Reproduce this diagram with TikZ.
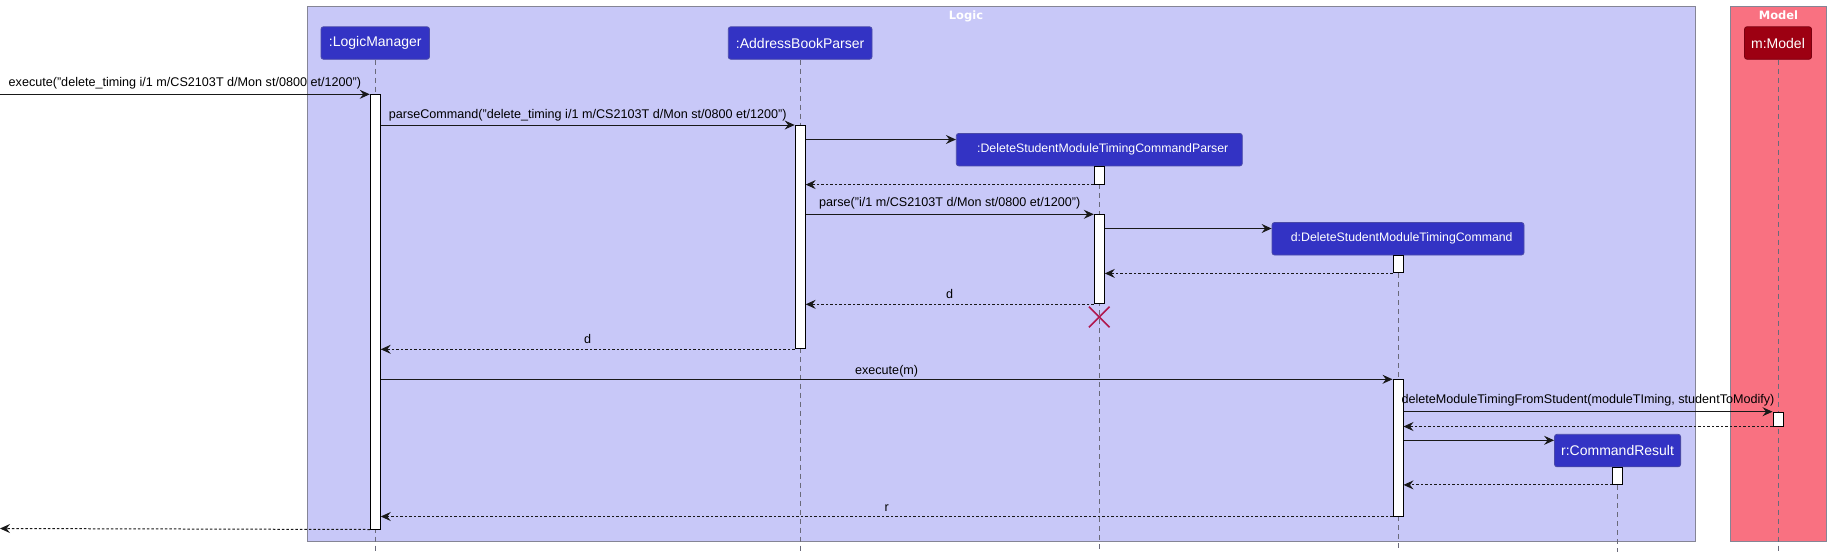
\documentclass[tikz,border=0pt]{standalone}
\usepackage{fontspec}
\setmainfont{Liberation Sans}
\newfontfamily\titlefont{DejaVu Sans}
\usetikzlibrary{arrows.meta,shapes.misc}
\definecolor{grpL}{HTML}{C8C8F8}
\definecolor{grpM}{HTML}{F97181}
\definecolor{grpB}{HTML}{858595}
\definecolor{partC}{HTML}{3333C4}
\definecolor{partB}{HTML}{4A4AA8}
\definecolor{partM}{HTML}{9D0012}
\definecolor{partMB}{HTML}{7A0010}
\definecolor{lifeC}{HTML}{6A6A7A}
\definecolor{destroyC}{HTML}{B0174D}
\begin{document}
\begin{tikzpicture}[x=1pt,y=-1pt,
  part/.style={draw=partB, fill=partC, rounded corners=2.5pt, text=white,
    font=\fontsize{14}{16}\selectfont, minimum height=32.5pt, inner sep=0pt, line width=0.8pt},
  partsmall/.style={font=\fontsize{12.3}{14}\selectfont, align=right},
  act/.style={draw=black, fill=white, minimum width=10pt, inner sep=0pt, line width=1pt},
  life/.style={draw=lifeC, dash pattern=on 5pt off 4pt, line width=0.9pt},
  msg/.style={draw=black!90, line width=1pt, -{Stealth[length=10pt,width=9pt,inset=3.5pt]}},
  ret/.style={msg, dash pattern=on 2.5pt off 2pt},
  lbl/.style={font=\fontsize{12.6}{14}\selectfont, text=black, anchor=base, inner sep=0pt, yshift=8pt},
  lbltwo/.style={lbl, yshift=-2.5pt},
  grp/.style={draw=grpB, line width=1pt, inner sep=0pt, anchor=north west},
  gtitle/.style={font=\titlefont\bfseries\fontsize{11.5}{13}\selectfont, text=white, anchor=base, inner sep=0pt},
  destroy/.style={draw=destroyC, cross out, minimum size=19pt, inner sep=0pt, line width=1.6pt}
]
\useasboundingbox (0,0) rectangle (1830,552);
\fill[white] (0,0) rectangle (1830,552);
% groups
\node[grp, fill=grpL, minimum width=1388pt, minimum height=534.5pt] (logic) at (307.3,6) {};
\node[gtitle] (logicT) at (966,19) {Logic};
\node[grp, fill=grpM, minimum width=96pt, minimum height=534.5pt] (model) at (1730,6) {};
\node[gtitle] (modelT) at ([yshift=-13pt]model.north) {Model};
% participants
\node[part, minimum width=108.5pt] (lm) at (375.25,43) {:LogicManager};
\node[part, minimum width=143.7pt] (abp) at (800.15,43) {:AddressBookParser};
\node[part, partsmall, text width=258pt, inner xsep=14pt] (dp) at (1099.3,149.65) {:DeleteStudentModuleTimingCommandParser};
\node[part, partsmall, text width=229.2pt, inner xsep=11.4pt] (dc) at (1398,238.75) {d:DeleteStudentModuleTimingCommand};
\node[part, minimum width=126.1pt] (cr) at (1617.55,450.55) {r:CommandResult};
\node[part, draw=partMB, fill=partM, minimum width=67pt] (m) at (1778,43) {m:Model};
% lifelines
\draw[life] (lm.south) -- (lm.south |- 0,552);
\draw[life] (abp.south) -- (abp.south |- 0,552);
\draw[life] (dp.south) -- (dp.south |- 0,552);
\draw[life] (dc.south) -- (dc.south |- 0,552);
\draw[life] (cr.south) -- (cr.south |- 0,552);
\draw[life] (m.south) -- (m.south |- 0,552);
% activations
\node[act, anchor=north, minimum height=434.2pt] (lmA) at (375.25,94.3) {};
\node[act, anchor=north, minimum height=223.3pt] (abpA) at (800.15,125) {};
\node[act, anchor=north, minimum height=17.3pt] (dpA1) at (dp.south) {};
\node[act, anchor=north, minimum height=89pt] (dpA2) at (1099.3,214.3) {};
\node[act, anchor=north, minimum height=17pt] (dcA1) at (dc.south) {};
\node[act, anchor=north, minimum height=136.2pt] (dcA2) at (1398,379.3) {};
\node[act, anchor=north, minimum height=13.8pt] (mA) at (1778,411.7) {};
\node[act, anchor=north, minimum height=16.7pt] (crA) at (cr.south) {};
% messages
\coordinate (in) at (0,94.3);
\draw[msg] (in) -- (lmA.north west) node[lbl, midway] {execute("delete\_timing i/1 m/CS2103T d/Mon st/0800 et/1200")};
\draw[msg] (lmA.east |- abpA.north) -- (abpA.north west) node[lbl, midway, yshift=-1.5pt] {parseCommand("delete\_timing i/1 m/CS2103T d/Mon st/0800 et/1200")};
\draw[msg] (abpA.east |- 0,139.5) -- (dp.west |- 0,139.5);
\draw[ret] (dpA1.south west) -- (abpA.east |- dpA1.south);
\draw[msg] (abpA.east |- dpA2.north) -- (dpA2.north west) node[lbl, midway] {parse("i/1 m/CS2103T d/Mon st/0800 et/1200")};
\draw[msg] (dpA2.east |- 0,228.5) -- (dc.west |- 0,228.5);
\draw[ret] (dcA1.south west) -- (dpA2.east |- dcA1.south);
\draw[ret] (dpA2.south west) -- (abpA.east |- dpA2.south) node[lbltwo, midway] {d};
\node[destroy] (x) at (1099.3,317) {};
\draw[ret] (abpA.south west) -- (lmA.east |- abpA.south) node[lbltwo, midway] {d};
\draw[msg] (lmA.east |- dcA2.north) -- (dcA2.north west) node[lbltwo, midway, yshift=-1pt] {execute(m)};
\draw[msg] (dcA2.east |- mA.north) -- (mA.north west) node[lbl, midway] {deleteModuleTimingFromStudent(moduleTIming, studentToModify)};
\draw[ret] (mA.south west) -- (dcA2.east |- mA.south);
\draw[msg] (dcA2.east |- 0,440.3) -- (cr.west |- 0,440.3);
\draw[ret] (crA.south west) -- (dcA2.east |- crA.south);
\draw[ret] (dcA2.south west) -- (lmA.east |- dcA2.south) node[lbltwo, midway] {r};
\coordinate (out) at (0,528.5);
\draw[ret] (lmA.south west) -- (out);
\end{tikzpicture}
\end{document}
